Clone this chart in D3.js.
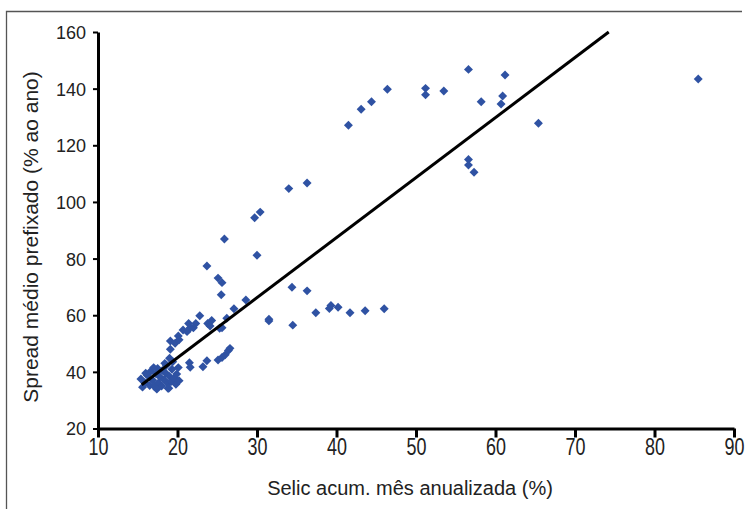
<!DOCTYPE html>
<html>
<head>
<meta charset="utf-8">
<script src="https://cdn.jsdelivr.net/npm/d3@7"></script>
<style>
  body { margin: 0; background: #fff; }
  .tick text { fill: #222; }
</style>
</head>
<body>
<div class="scatterplot"></div>
<script>
// Selic acumulada no mês (anualizada, %) vs spread médio prefixado (% ao ano)
const selic = [
  15.4, 15.6, 15.9, 16.2, 16.5, 16.6, 16.9, 17.1, 17.3, 17.5, 17.6, 17.8, 18.0, 18.1, 18.3,
  18.5, 18.6, 18.8, 18.9, 19.0, 19.2, 19.3, 19.4, 19.6, 19.8, 19.9, 20.1, 20.2, 16.0, 17.0,
  18.4, 17.4, 18.8, 19.0, 19.1, 19.1, 19.7, 20.1, 20.2, 20.7,
  21.2, 21.4, 21.6, 22.0, 22.3, 22.8, 23.8, 24.3, 24.1, 25.3, 25.6, 26.2, 21.5, 21.6, 23.2,
  23.7, 25.1, 25.6, 26.0, 26.4, 26.6,
  23.7, 25.1, 25.6, 25.5, 25.9, 27.1, 28.6, 29.7, 30.4, 30.0, 31.5, 31.5, 34.0, 34.5, 34.4,
  36.3, 36.3, 37.4, 39.1, 39.3, 40.2, 41.7, 43.6, 46.0,
  41.5, 43.1, 44.4, 46.4, 51.2, 51.2, 53.5, 56.6, 61.2, 58.2, 60.9, 60.7, 65.4,
  56.6, 56.6, 57.3, 85.5
];
const spread = [
  37.5, 34.6, 36.2, 38.8, 35.2, 40.1, 37.0, 34.8, 39.3, 41.2, 36.1, 38.2, 35.0, 40.5, 37.2,
  39.6, 42.3, 35.8, 34.2, 38.4, 36.6, 40.9, 43.6, 37.8, 35.6, 39.2, 41.5, 36.9, 39.5, 41.5,
  43.0, 33.9, 34.2, 44.8, 48.0, 50.9, 50.1, 52.7, 51.3, 54.8,
  54.2, 57.1, 55.6, 55.6, 57.1, 59.8, 57.1, 58.1, 56.2, 55.4, 55.6, 58.9, 43.2, 41.6, 41.8,
  43.9, 44.2, 45.1, 46.0, 47.5, 48.3,
  77.4, 73.1, 71.5, 67.2, 86.9, 62.3, 65.4, 94.4, 96.4, 81.2, 58.0, 58.6, 104.7, 56.5, 69.9,
  106.7, 68.6, 60.9, 62.4, 63.4, 62.8, 60.9, 61.6, 62.3,
  127.1, 132.7, 135.4, 139.8, 140.1, 137.8, 139.2, 146.8, 144.8, 135.4, 137.4, 134.6, 127.8,
  115.0, 113.0, 110.5, 143.4
];

// reta de tendência
const trendSlope = 2.12;
const trendIntercept = 2.6;
const trendStart = 15.5;

const xTicks = [10, 20, 30, 40, 50, 60, 70, 80, 90];
const yTicks = [20, 40, 60, 80, 100, 120, 140, 160];

const W = 746, H = 509;
const margin = { top: 32, right: 12, bottom: 80.5, left: 98 };
const width = W - margin.left - margin.right;
const height = H - margin.top - margin.bottom;
const font = 'Arial, "Liberation Sans", Helvetica, sans-serif';

const svg = d3.select('.scatterplot')
  .append('svg')
  .attr('width', W)
  .attr('height', H);

// moldura (apenas lados esquerdo e superior aparecem)
svg.append('path')
  .attr('d', `M6.5,${H}V11.5H742`)
  .attr('fill', 'none')
  .attr('stroke', '#555')
  .attr('stroke-width', 1.3);

const g = svg.append('g')
  .attr('transform', 'translate(' + margin.left + ',' + margin.top + ')');

const x = d3.scaleLinear().domain([10, 90]).range([0, width]);
const y = d3.scaleLinear().domain([20, 160]).range([height, 0]);

const xAxis = d3.axisBottom(x).tickValues(xTicks).tickSize(9).tickPadding(1).tickSizeOuter(0);
const yAxis = d3.axisLeft(y).tickValues(yTicks).tickSize(5).tickPadding(7).tickSizeOuter(0);

const gx = g.append('g')
  .attr('transform', 'translate(0,' + height + ')')
  .call(xAxis);
gx.select('.domain').attr('stroke', '#000').attr('stroke-width', 3);
gx.selectAll('.tick line').attr('stroke', '#000').attr('stroke-width', 3);
// rótulos do eixo x são condensados no original
gx.selectAll('.tick text')
  .style('font-family', font)
  .style('font-size', '23px')
  .attr('transform', 'scale(0.78,1)');

const gy = g.append('g').call(yAxis);
gy.select('.domain').attr('stroke', '#000').attr('stroke-width', 3);
gy.selectAll('.tick line').attr('stroke', '#000').attr('stroke-width', 2);
gy.selectAll('.tick text')
  .style('font-family', font)
  .style('font-size', '18px')
  .attr('dy', '0.36em');

// pontos
const diamond = d3.symbol().type(d3.symbolSquare).size(40);
g.selectAll('path.pt')
  .data(d3.range(selic.length))
  .enter()
  .append('path')
  .attr('class', 'pt')
  .attr('d', diamond)
  .attr('transform', (i) => `translate(${x(selic[i])},${y(spread[i])}) rotate(45)`)
  .attr('fill', '#2f52a3');

// linha de tendência
const trendEnd = (160 - trendIntercept) / trendSlope;
const line = d3.line()
  .x((d) => x(d))
  .y((d) => y(trendIntercept + trendSlope * d));
g.append('path')
  .datum([trendStart, trendEnd])
  .attr('d', line)
  .attr('fill', 'none')
  .attr('stroke', '#000')
  .attr('stroke-width', 3);

// títulos dos eixos
g.append('text')
  .attr('transform', `translate(${width / 2 - 6}, ${height + 66})`)
  .style('text-anchor', 'middle')
  .style('font-family', font)
  .style('font-size', '20px')
  .attr('fill', '#222')
  .text('Selic acum. mês anualizada (%)');

g.append('text')
  .attr('transform', 'rotate(-90)')
  .attr('y', -margin.left + 38)
  .attr('x', -205)
  .style('text-anchor', 'middle')
  .style('font-family', font)
  .style('font-size', '21px')
  .attr('fill', '#222')
  .text('Spread médio prefixado (% ao ano)');
</script>
</body>
</html>
